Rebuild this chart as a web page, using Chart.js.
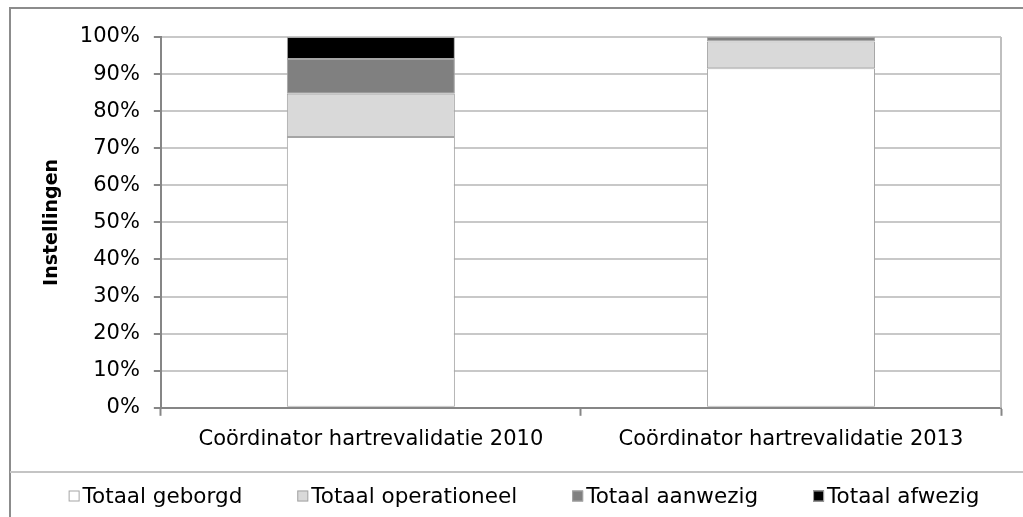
<!DOCTYPE html>
<html lang="nl">

<head>
    <meta charset="UTF-8">
    <title>Instellingen</title>
    <style>
        body {
            margin: 0;
            background: #fff;
        }

        .chart-container {
            position: relative;
            width: 1023px;
            height: 517px;
        }
    </style>
</head>

<body>
    <div class="chart-container">
        <canvas id="chartCanvas"></canvas>
    </div>

    <script src="https://cdn.jsdelivr.net/npm/chart.js"></script>
    <script>
        // Gegevens (percentages)
        const categorieen = ['Coördinator hartrevalidatie 2010', 'Coördinator hartrevalidatie 2013'];
        const geborgd = [73.0, 91.6];
        const operationeel = [11.7, 7.2];
        const aanwezig = [9.4, 1.2];
        const afwezig = [5.9, 0];
        const yTicks = [0, 10, 20, 30, 40, 50, 60, 70, 80, 90, 100];

        Chart.defaults.font.family = '"DejaVu Sans", Verdana, sans-serif';
        Chart.defaults.font.size = 21;
        Chart.defaults.color = '#000';

        const randKleur = '#a5a5a5';

        // Kader rond de grafiek + scheidingslijn boven de legenda
        const kader = {
            id: 'kader',
            beforeDraw(chart) {
                const c = chart.ctx;
                c.save();
                c.strokeStyle = '#8c8c8c';
                c.lineWidth = 2;
                c.beginPath();
                c.moveTo(10, chart.height);
                c.lineTo(10, 8);
                c.lineTo(chart.width, 8);
                c.stroke();
                c.strokeStyle = '#c4c4c4';
                c.beginPath();
                c.moveTo(10, 472);
                c.lineTo(chart.width, 472);
                c.stroke();
                c.restore();
            },
            afterDatasetsDraw(chart) {
                const a = chart.chartArea;
                const c = chart.ctx;
                c.save();
                c.strokeStyle = '#bfbfbf';
                c.lineWidth = 2;
                c.beginPath();
                c.moveTo(a.right, a.top);
                c.lineTo(a.right, a.bottom);
                c.stroke();
                c.restore();
            }
        };

        // Legenda zoals in Excel: klein vakje direct voor de tekst
        const legenda = {
            id: 'legenda',
            afterDraw(chart) {
                const c = chart.ctx;
                const sets = chart.data.datasets;
                const box = 11, gat = 3, ruimte = 55, midden = 524, y = 496;
                c.save();
                c.font = '21.5px "DejaVu Sans", Verdana, sans-serif';
                c.textBaseline = 'middle';
                c.fillStyle = '#000';
                const breedtes = sets.map(d => c.measureText(d.label).width);
                let totaal = breedtes.reduce((s, w) => s + w + box + gat, 0) + ruimte * (sets.length - 1);
                let x = midden - totaal / 2;
                sets.forEach((d, i) => {
                    c.fillStyle = d.backgroundColor;
                    c.fillRect(x, y - box / 2, box, box);
                    c.strokeStyle = d.borderColor;
                    c.lineWidth = 1;
                    c.strokeRect(x + 0.5, y - box / 2 + 0.5, box - 1, box - 1);
                    c.fillStyle = '#000';
                    c.fillText(d.label, x + box + gat, y + 1);
                    x += box + gat + breedtes[i] + ruimte;
                });
                c.restore();
            }
        };

        const ctx = document.getElementById('chartCanvas').getContext('2d');

        const chart = new Chart(ctx, {
            type: 'bar',
            data: {
                labels: categorieen,
                datasets: [
                    { label: 'Totaal geborgd', data: geborgd, backgroundColor: '#ffffff' },
                    { label: 'Totaal operationeel', data: operationeel, backgroundColor: '#d9d9d9' },
                    { label: 'Totaal aanwezig', data: aanwezig, backgroundColor: '#808080' },
                    { label: 'Totaal afwezig', data: afwezig, backgroundColor: '#000000' }
                ].map(d => Object.assign(d, {
                    borderColor: randKleur,
                    borderWidth: 1,
                    borderSkipped: false,
                    barPercentage: 0.4,
                    categoryPercentage: 1
                }))
            },
            options: {
                responsive: true,
                maintainAspectRatio: false,
                animation: false,
                layout: {
                    padding: { top: 37, left: 39, right: 22, bottom: 54 }
                },
                plugins: {
                    legend: { display: false },
                    tooltip: { enabled: false }
                },
                scales: {
                    x: {
                        stacked: true,
                        border: { color: '#868686', width: 2 },
                        grid: {
                            drawOnChartArea: false,
                            tickLength: 8,
                            tickColor: '#868686',
                            tickWidth: 2
                        },
                        ticks: { padding: 11, maxRotation: 0 }
                    },
                    y: {
                        stacked: true,
                        min: 0,
                        max: 100,
                        afterBuildTicks(scale) {
                            scale.ticks = yTicks.map(v => ({ value: v }));
                        },
                        border: { color: '#868686', width: 2 },
                        grid: {
                            color: '#c8c8c8',
                            lineWidth: 2,
                            tickLength: 7,
                            tickColor: '#868686'
                        },
                        ticks: {
                            padding: 14,
                            callback: v => v + '%'
                        },
                        title: {
                            display: true,
                            text: 'Instellingen',
                            font: { size: 19, weight: 'bold' },
                            padding: { top: 2, bottom: 2 }
                        }
                    }
                }
            },
            plugins: [kader, legenda]
        });
    </script>
</body>

</html>
